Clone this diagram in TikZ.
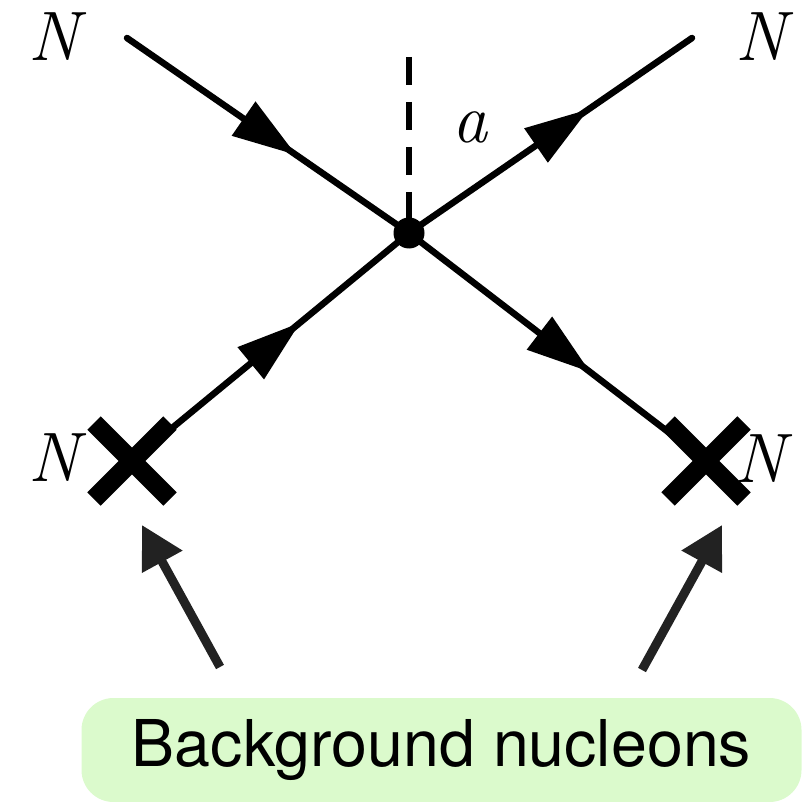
\documentclass[tikz,border=0pt]{standalone}
\usepackage{fontspec}
\newfontfamily\helv{TeX Gyre Heros}
\usetikzlibrary{arrows.meta,decorations.markings,shapes.misc}
\definecolor{boxgreen}{RGB}{219,250,204}
\definecolor{pointgray}{RGB}{34,34,34}
\tikzset{
  fermion/.style={line width=6.5pt, line cap=round, postaction={decorate},
    decoration={markings, mark=at position #1 with {\arrow{Triangle[length=64pt,width=40pt]}}}},
  vtx/.style={circle, fill=black, inner sep=0pt, minimum size=31pt},
  crossmark/.style={cross out, draw=black, line width=19pt, inner sep=0pt, outer sep=0pt, minimum size=76pt},
  lbl/.style={inner sep=0pt, anchor=base, font=\fontsize{70}{80}\selectfont\itshape},
  pointer/.style={draw=pointgray, line width=9pt, -{Triangle[length=42pt,width=44pt]}},
  axion/.style={line width=6pt, dash pattern=on 28pt off 17pt}
}
\begin{document}
\begin{tikzpicture}[x=1pt,y=-1pt]
\useasboundingbox (0,0) rectangle (802,802);
\coordinate (tl) at (127,38);
\coordinate (tr) at (692,38);
\coordinate (ta) at (409,57);
\coordinate (cl) at (132,461);
\coordinate (cr) at (706,461);
\coordinate (vc) at (409,233);
% propagators
\draw[fermion=0.60] (tl) -- (vc);
\draw[fermion=0.635] (vc) -- (tr);
\draw[fermion=0.607] (cl) -- (vc);
\draw[fermion=0.61] (vc) -- (cr);
\draw[axion] (ta) -- (vc);
\node[vtx] (v) at (vc) {};
% labels
\node[lbl] (ntl) at (54,61) {N};
\node[lbl] (ntr) at (761,61) {N};
\node[lbl] (nbl) at (54,481) {N};
\node[lbl] (nbr) at (760,482) {N};
\node[lbl] (la) at (470,143) {a};
% background nucleons
\node[crossmark] (xl) at (cl) {};
\node[crossmark] (xr) at (cr) {};
\node[fill=boxgreen, rounded corners=32pt, minimum width=720pt, minimum height=104pt, inner sep=0pt,
  font=\helv\fontsize{64.5}{70}\selectfont] (bg) at (441.5,750) {Background nucleons};
\coordinate (pl) at (220,667);
\coordinate (pr) at (642,670);
\coordinate (ptl) at (142,525);
\coordinate (ptr) at (722,525);
\draw[pointer] (pl) -- (ptl);
\draw[pointer] (pr) -- (ptr);
\end{tikzpicture}
\end{document}
